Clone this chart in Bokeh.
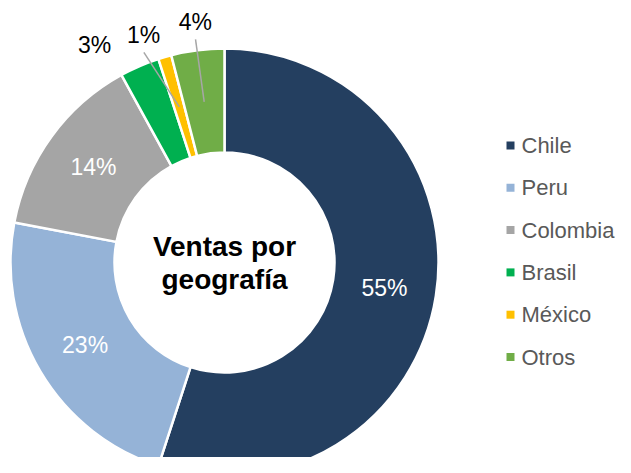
import math
from bokeh.plotting import figure
from bokeh.models import Range1d, ColumnDataSource
from bokeh.core.properties import value
from bokeh.embed import file_html
from bokeh.resources import INLINE

# ---- data ----
categories = ["Chile", "Peru", "Colombia", "Brasil", "México", "Otros"]
shares = [55, 23, 14, 3, 1, 4]
colors = ["#243F60", "#95B3D7", "#A5A5A5", "#00B050", "#FFC000", "#70AD47"]
title_lines = ["Ventas por", "geografía"]

# ---- layout (data units = pixels, y measured up from y=473 screen) ----
W, H = 615, 457
CX, CY = 224, 473 - 262
R_OUT, R_IN = 214, 110
R_MID = (R_OUT + R_IN) / 2
FONT = "Liberation Sans"

# outside labels: (radius, compass angle offset from slice mid in degrees)
outside = {"Brasil": (253, -7.5), "México": (241, -3.4), "Otros": (242, 0.3)}
# leader lines: end (radius, offset)
leaders = {"México": (225, -4.8), "Otros": (225, -0.2)}

p = figure(width=W, height=H, output_backend="svg", toolbar_location=None,
           x_range=Range1d(0, W), y_range=Range1d(473 - H, 473),
           min_border=0)
p.axis.visible = False
p.grid.visible = False
p.outline_line_color = None
p.background_fill_color = "white"
p.border_fill_color = "white"

total = float(sum(shares))
starts, ends, mids = [], [], []
cum = 0.0
for s in shares:
    a0 = math.pi / 2 - 2 * math.pi * cum / total
    cum += s
    a1 = math.pi / 2 - 2 * math.pi * cum / total
    starts.append(a0)
    ends.append(a1)
    mids.append((a0 + a1) / 2)

src = ColumnDataSource(dict(start=starts, end=ends, color=colors, cat=categories))
p.annular_wedge(x=CX, y=CY, inner_radius=R_IN, outer_radius=R_OUT,
                start_angle="start", end_angle="end", direction="clock",
                fill_color="color", line_color="white", line_width=2.5, source=src)

def polar(r, ang):
    return CX + r * math.cos(ang), CY + r * math.sin(ang)

in_x, in_y, in_t = [], [], []
out_x, out_y, out_t = [], [], []
lx0, ly0, lx1, ly1 = [], [], [], []
for cat, s, m in zip(categories, shares, mids):
    label = f"{s}%"
    if cat in outside:
        rr, off = outside[cat]
        x, y = polar(rr, m - math.radians(off))
        out_x.append(x); out_y.append(y); out_t.append(label)
        if cat in leaders:
            lr, loff = leaders[cat]
            x0, y0 = polar(R_MID, m)
            x1, y1 = polar(lr, m - math.radians(loff))
            lx0.append(x0); ly0.append(y0); lx1.append(x1); ly1.append(y1)
    else:
        x, y = polar(R_MID, m)
        in_x.append(x); in_y.append(y); in_t.append(label)

p.segment(x0=lx0, y0=ly0, x1=lx1, y1=ly1, line_color="#A6A6A6", line_width=1.5)

p.text(x=in_x, y=in_y, text=in_t, text_color="white", text_font=value(FONT),
       text_font_size="23px", text_align="center", text_baseline="middle")
p.text(x=out_x, y=out_y, text=out_t, text_color="#000000", text_font=value(FONT),
       text_font_size="23px", text_align="center", text_baseline="middle")

# center title
p.text(x=[CX, CX], y=[473 - 246, 473 - 279], text=title_lines, text_color="#000000",
       text_font=value(FONT), text_font_style="bold", text_font_size="28px",
       text_align="center", text_baseline="middle")

# legend
LEG_X, LEG_TOP, LEG_STEP = 510, 145, 42.3
leg_y = [473 - (LEG_TOP + i * LEG_STEP) for i in range(len(categories))]
p.scatter(x=[LEG_X] * len(categories), y=leg_y, marker="square", size=8,
          fill_color=colors, line_color=None)
p.text(x=[LEG_X + 11] * len(categories), y=leg_y, text=categories,
       text_color="#595959", text_font=value(FONT), text_font_size="22px",
       text_align="left", text_baseline="middle")

open("out.html", "w").write(file_html(p, INLINE))
